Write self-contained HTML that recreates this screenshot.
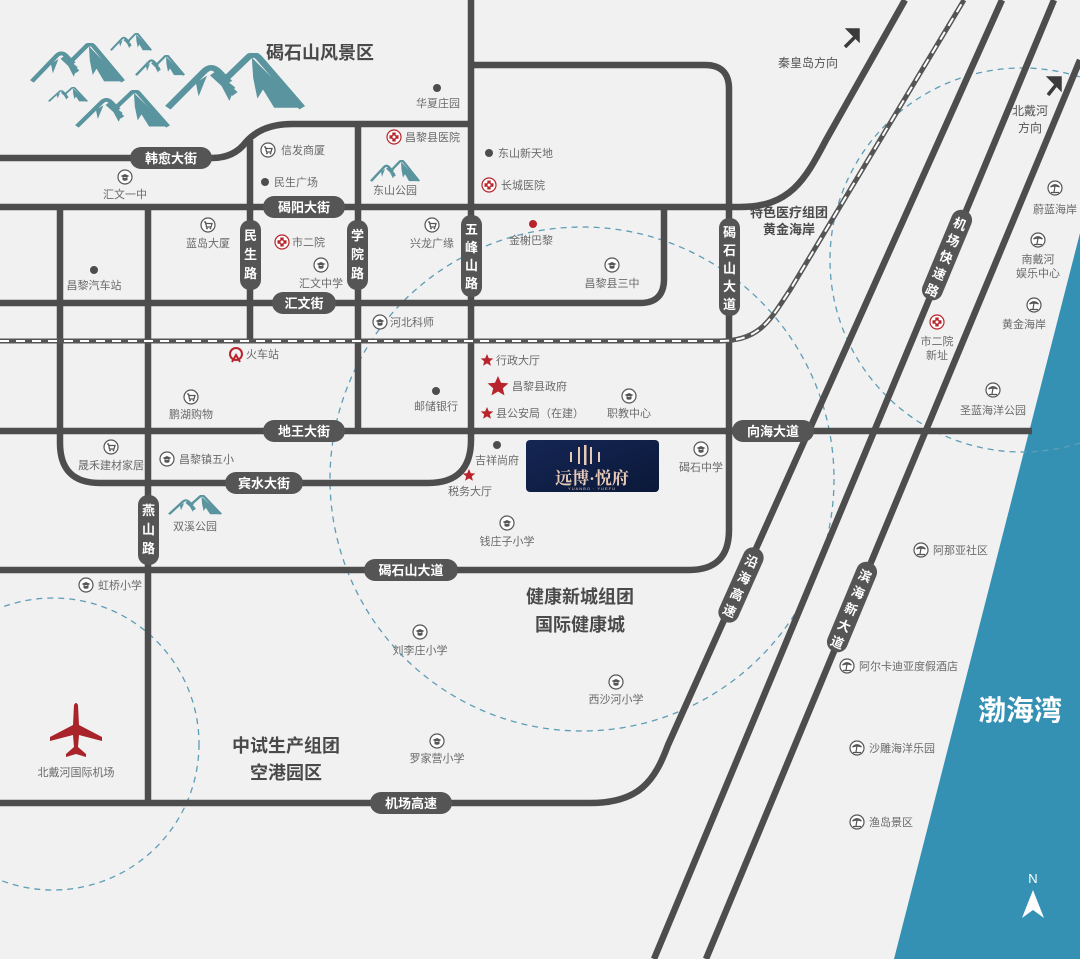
<!DOCTYPE html>
<html><head><meta charset="utf-8"><style>
html,body{margin:0;padding:0;background:#f1f1f1;}
svg{display:block;font-family:"Liberation Sans","Noto Sans CJK SC",sans-serif;}
.p{font-size:11px;fill:#6a6a6a;}
.rl{font-size:13px;fill:#fff;font-weight:bold;}
.big{font-size:18px;font-weight:bold;fill:#4a4a4a;}
.mid{font-size:13px;font-weight:bold;fill:#4a4a4a;}
</style></head><body>
<svg width="1080" height="959" viewBox="0 0 1080 959" xmlns="http://www.w3.org/2000/svg">
<defs>
<symbol id="mt" viewBox="0 0 100 50" preserveAspectRatio="none">
<path d="M2,48 L28,16 Q33,10 38,16 L46,26 M34,18 L50,36 M44,22 L60,3 Q64,0 67,4 L98,48" fill="none" stroke="#5a949e" stroke-width="5" stroke-linejoin="round"/>
<path d="M62,4 L98,48 L78,48 L70,32 L66,40 L63,22 Z" fill="#5a949e"/>
<path d="M35,16 L50,30 L46,42 L40,28 Z" fill="#5a949e"/>
<path d="M22,26 L30,20 L24,38 Z" fill="#5a949e"/>
</symbol>
<symbol id="sch" viewBox="0 0 16 16"><circle cx="8" cy="8" r="7" fill="#fff" stroke="#555" stroke-width="1.2"/><path d="M3.5,7 L8,5 L12.5,7 L8,9 Z M5.5,8 V11 Q8,12.5 10.5,11 V8" fill="#555"/></symbol>
<symbol id="shp" viewBox="0 0 16 16"><circle cx="8" cy="8" r="7" fill="#fff" stroke="#555" stroke-width="1.2"/><path d="M4,5 H5.5 L6.5,10 H11 L12,6.5 H6" fill="none" stroke="#555" stroke-width="1.3"/><circle cx="7" cy="11.5" r="0.9" fill="#555"/><circle cx="10.5" cy="11.5" r="0.9" fill="#555"/></symbol>
<symbol id="hos" viewBox="0 0 16 16"><circle cx="8" cy="8" r="7" fill="#fff" stroke="#b8242b" stroke-width="1.2"/><path d="M6.3,3.5 H9.7 V6.3 H12.5 V9.7 H9.7 V12.5 H6.3 V9.7 H3.5 V6.3 H6.3 Z" fill="#b8242b"/><circle cx="8" cy="8" r="1.5" fill="#fff"/></symbol>
<symbol id="palm" viewBox="0 0 16 16"><circle cx="8" cy="8" r="7" fill="#fff" stroke="#555" stroke-width="1.2"/><path d="M8,6 L7,12 M3.5,7 Q8,2.5 12.5,7 Q8,5 3.5,7 Z M4,12.5 H12" fill="#555" stroke="#555" stroke-width="1.2"/></symbol>
</defs>
<rect width="1080" height="959" fill="#f1f1f1"/>
<path d="M1080,233 L894,959 L1080,959 Z" fill="#3591b4"/>
<g fill="none" stroke="#5d9db5" stroke-width="1.3" stroke-dasharray="6,5">
<circle cx="582" cy="479" r="252"/>
<circle cx="53" cy="744" r="146"/>
<circle cx="1022" cy="260" r="192"/>
</g>
<g fill="none" stroke="#4d4d4d" stroke-width="6.5" stroke-linejoin="round">
<path d="M0,158 H212 Q234,158 246,142 Q262,124 292,124 H471"/>
<path d="M250,140 V341"/>
<path d="M358,124 V431"/>
<path d="M471,0 V440 Q471,483 428,483 H100 Q60,483 60,443 V207"/>
<path d="M471,65 H705 Q729,65 729,89 V530 Q729,570 689,570 H0"/>
<path d="M0,207 H740 C790,207 805,180 826,140 L905,0"/>
<path d="M0,303 H640 Q664,303 664,279 V207"/>
<path d="M0,431 H1032"/>
<path d="M148,207 V803"/>
<path d="M0,803 H590 C640,803 655,780 668,745 L1002,0"/>
<path d="M1054,0 L654,959"/>
<path d="M1080,60 L706,959"/>
</g>
<path d="M0,341 H720 C760,341 770,320 790,290 L964,0" fill="none" stroke="#555" stroke-width="5"/>
<path d="M0,341 H720 C760,341 770,320 790,290 L964,0" fill="none" stroke="#fff" stroke-width="2" stroke-dasharray="9,7"/>
<use href="#mt" x="30" y="43" width="95" height="40"/>
<use href="#mt" x="110" y="33" width="42" height="18"/>
<use href="#mt" x="135" y="55" width="50" height="21"/>
<use href="#mt" x="48" y="87" width="40" height="15"/>
<use href="#mt" x="75" y="90" width="95" height="38"/>
<use href="#mt" x="165" y="53" width="140" height="57"/>
<use href="#mt" x="370" y="160" width="50" height="22"/>
<use href="#mt" x="168" y="495" width="54" height="20"/>
<g>
<rect x="130" y="147" width="82" height="22" rx="11" fill="#555"/><text x="171" y="163" class="rl" text-anchor="middle">韩愈大街</text>
<rect x="263" y="196" width="82" height="22" rx="11" fill="#555"/><text x="304" y="212" class="rl" text-anchor="middle">碣阳大街</text>
<rect x="272" y="292" width="64" height="22" rx="11" fill="#555"/><text x="304" y="308" class="rl" text-anchor="middle">汇文街</text>
<rect x="263" y="420" width="82" height="22" rx="11" fill="#555"/><text x="304" y="436" class="rl" text-anchor="middle">地王大街</text>
<rect x="225" y="472" width="78" height="22" rx="11" fill="#555"/><text x="264" y="488" class="rl" text-anchor="middle">宾水大街</text>
<rect x="732" y="420" width="82" height="22" rx="11" fill="#555"/><text x="773" y="436" class="rl" text-anchor="middle">向海大道</text>
<rect x="364" y="559" width="94" height="22" rx="11" fill="#555"/><text x="411" y="575" class="rl" text-anchor="middle">碣石山大道</text>
<rect x="370" y="792" width="82" height="22" rx="11" fill="#555"/><text x="411" y="808" class="rl" text-anchor="middle">机场高速</text>
</g>
<g class="rl" text-anchor="middle">
<rect x="240" y="220" width="21" height="70" rx="10" fill="#555"/><text x="250.5" y="240">民</text><text x="250.5" y="259">生</text><text x="250.5" y="278">路</text>
<rect x="347" y="220" width="21" height="70" rx="10" fill="#555"/><text x="357.5" y="240">学</text><text x="357.5" y="259">院</text><text x="357.5" y="278">路</text>
<rect x="461" y="215" width="21" height="82" rx="10" fill="#555"/><text x="471.5" y="234">五</text><text x="471.5" y="252">峰</text><text x="471.5" y="270">山</text><text x="471.5" y="288">路</text>
<rect x="719" y="218" width="21" height="98" rx="10" fill="#555"/><text x="729.5" y="237">碣</text><text x="729.5" y="255">石</text><text x="729.5" y="273">山</text><text x="729.5" y="291">大</text><text x="729.5" y="309">道</text>
<rect x="138" y="495" width="21" height="70" rx="10" fill="#555"/><text x="148.5" y="515">燕</text><text x="148.5" y="534">山</text><text x="148.5" y="553">路</text>
<g transform="translate(947,255) rotate(22.6)"><rect x="-10.5" y="-48" width="21" height="96" rx="10" fill="#555"/><text y="-29">机</text><text y="-11">场</text><text y="7">快</text><text y="25">速</text><text y="43">路</text></g>
<g transform="translate(741,585) rotate(24)"><rect x="-10.5" y="-40" width="21" height="80" rx="10" fill="#555"/><text y="-21">沿</text><text y="-3">海</text><text y="15">高</text><text y="33">速</text></g>
<g transform="translate(852,607) rotate(22.6)"><rect x="-10.5" y="-48" width="21" height="96" rx="10" fill="#555"/><text y="-29">滨</text><text y="-11">海</text><text y="7">新</text><text y="25">大</text><text y="43">道</text></g>
</g>
<defs><linearGradient id="pg" x1="0" y1="0" x2="1" y2="1"><stop offset="0" stop-color="#142654"/><stop offset="1" stop-color="#0b1838"/></linearGradient></defs>
<rect x="526" y="440" width="133" height="52" rx="4" fill="url(#pg)"/>
<g fill="#e8c9b6"><rect x="570" y="452" width="2" height="10"/><rect x="578" y="447" width="2" height="17"/><rect x="584" y="445" width="2.5" height="20"/><rect x="590" y="447" width="2" height="17"/><rect x="598" y="452" width="2" height="10"/></g>
<text x="592" y="484" font-size="17" font-weight="bold" fill="#e8c9b6" text-anchor="middle" font-family="Liberation Serif,Noto Serif CJK SC,serif">远博·悦府</text>
<text x="592" y="490" font-size="4" fill="#e8c9b6" text-anchor="middle" letter-spacing="1">YUANBO · YUEFU</text>
<text x="320" y="59" class="big" text-anchor="middle">碣石山风景区</text>
<text x="580" y="603" class="big" text-anchor="middle">健康新城组团</text>
<text x="580" y="631" class="big" text-anchor="middle">国际健康城</text>
<text x="286" y="752" class="big" text-anchor="middle">中试生产组团</text>
<text x="286" y="779" class="big" text-anchor="middle">空港园区</text>
<text x="789" y="217" class="mid" text-anchor="middle">特色医疗组团</text>
<text x="789" y="234" class="mid" text-anchor="middle">黄金海岸</text>
<text x="1020" y="720" font-size="28" font-weight="bold" fill="#fff" text-anchor="middle">渤海湾</text>
<path d="M845,47 L855,37 M849,30 L858,30 L858,39 Z" stroke="#3a3a3a" stroke-width="3.5" fill="#3a3a3a"/>
<path d="M1048,95 L1056,85 M1050,78 L1060,78 L1060,88 Z" stroke="#3a3a3a" stroke-width="3.5" fill="#3a3a3a"/>
<text x="1033" y="883" font-size="13" fill="#fff" text-anchor="middle">N</text>
<path d="M1033,890 L1044,918 L1033,910 L1022,918 Z" fill="#fff"/>
<g fill="#a8232a" transform="translate(76,733)">
<path d="M-2,-28 Q0,-32 2,-28 L3,-8 L26,4 L26,8 L3,2 L2,14 L10,21 L10,24 L0,21 L-10,24 L-10,21 L-2,14 L-3,2 L-26,8 L-26,4 L-3,-8 Z"/>
</g>
<g fill="#4d4d4d">
<circle cx="437" cy="88" r="4"/><circle cx="265" cy="182" r="4"/><circle cx="489" cy="153" r="4"/>
<circle cx="94" cy="270" r="4"/><circle cx="436" cy="391" r="4"/><circle cx="497" cy="445" r="4"/>
</g>
<circle cx="533" cy="224" r="4" fill="#b8242b"/>
<g fill="#b8242b">
<path d="M487,354 l1.8,4.2 4.5,.3 -3.5,2.9 1.1,4.4 -3.9,-2.4 -3.9,2.4 1.1,-4.4 -3.5,-2.9 4.5,-.3 Z"/>
<path d="M498,376 l3,6.8 7.4,.6 -5.6,4.8 1.7,7.2 -6.5,-3.9 -6.5,3.9 1.7,-7.2 -5.6,-4.8 7.4,-.6 Z"/>
<path d="M487,407 l1.8,4.2 4.5,.3 -3.5,2.9 1.1,4.4 -3.9,-2.4 -3.9,2.4 1.1,-4.4 -3.5,-2.9 4.5,-.3 Z"/>
<path d="M469,469 l1.8,4.2 4.5,.3 -3.5,2.9 1.1,4.4 -3.9,-2.4 -3.9,2.4 1.1,-4.4 -3.5,-2.9 4.5,-.3 Z"/>
</g>
<circle cx="236" cy="354" r="6" fill="none" stroke="#b8242b" stroke-width="2"/><path d="M232,362 L236,355 L240,362" fill="none" stroke="#b8242b" stroke-width="2"/>
<use href="#shp" x="260" y="142" width="16" height="16"/>
<use href="#hos" x="386" y="129" width="16" height="16"/>
<use href="#hos" x="481" y="177" width="16" height="16"/>
<use href="#sch" x="117" y="169" width="16" height="16"/>
<use href="#shp" x="200" y="217" width="16" height="16"/>
<use href="#hos" x="274" y="234" width="16" height="16"/>
<use href="#sch" x="313" y="257" width="16" height="16"/>
<use href="#shp" x="424" y="217" width="16" height="16"/>
<use href="#sch" x="604" y="257" width="16" height="16"/>
<use href="#sch" x="372" y="314" width="16" height="16"/>
<use href="#shp" x="183" y="389" width="16" height="16"/>
<use href="#sch" x="621" y="388" width="16" height="16"/>
<use href="#shp" x="103" y="439" width="16" height="16"/>
<use href="#sch" x="159" y="451" width="16" height="16"/>
<use href="#sch" x="499" y="515" width="16" height="16"/>
<use href="#sch" x="693" y="441" width="16" height="16"/>
<use href="#sch" x="78" y="577" width="16" height="16"/>
<use href="#sch" x="412" y="624" width="16" height="16"/>
<use href="#sch" x="608" y="674" width="16" height="16"/>
<use href="#sch" x="429" y="733" width="16" height="16"/>
<use href="#palm" x="1047" y="180" width="16" height="16"/>
<use href="#palm" x="1030" y="232" width="16" height="16"/>
<use href="#palm" x="1026" y="297" width="16" height="16"/>
<use href="#hos" x="929" y="314" width="16" height="16"/>
<use href="#palm" x="985" y="382" width="16" height="16"/>
<use href="#palm" x="913" y="542" width="16" height="16"/>
<use href="#palm" x="839" y="658" width="16" height="16"/>
<use href="#palm" x="849" y="740" width="16" height="16"/>
<use href="#palm" x="849" y="814" width="16" height="16"/>
<g class="p" text-anchor="middle">
<text x="438" y="107">华夏庄园</text>
<text x="395" y="194">东山公园</text>
<text x="125" y="198">汇文一中</text>
<text x="208" y="247">蓝岛大厦</text>
<text x="321" y="287">汇文中学</text>
<text x="432" y="247">兴龙广缘</text>
<text x="612" y="287">昌黎县三中</text>
<text x="94" y="289">昌黎汽车站</text>
<text x="436" y="410">邮储银行</text>
<text x="629" y="417">职教中心</text>
<text x="191" y="418">鹏湖购物</text>
<text x="111" y="469">晟禾建材家居</text>
<text x="497" y="464">吉祥尚府</text>
<text x="470" y="495">税务大厅</text>
<text x="507" y="545">钱庄子小学</text>
<text x="701" y="471">碣石中学</text>
<text x="195" y="530">双溪公园</text>
<text x="420" y="654">刘李庄小学</text>
<text x="616" y="703">西沙河小学</text>
<text x="437" y="762">罗家营小学</text>
<text x="76" y="776">北戴河国际机场</text>
<text x="1055" y="213">蔚蓝海岸</text>
<text x="1038" y="263">南戴河</text>
<text x="1038" y="277">娱乐中心</text>
<text x="1024" y="328">黄金海岸</text>
<text x="937" y="345">市二院</text>
<text x="937" y="359">新址</text>
<text x="993" y="414">圣蓝海洋公园</text>
</g>
<g class="p">
<text x="281" y="154">信发商厦</text>
<text x="274" y="186">民生广场</text>
<text x="405" y="141">昌黎县医院</text>
<text x="498" y="157">东山新天地</text>
<text x="501" y="189">长城医院</text>
<text x="292" y="246">市二院</text>
<text x="509" y="244">金榭巴黎</text>
<text x="390" y="326">河北科师</text>
<text x="246" y="358">火车站</text>
<text x="496" y="364">行政大厅</text>
<text x="512" y="390">昌黎县政府</text>
<text x="496" y="417">县公安局（在建）</text>
<text x="179" y="463">昌黎镇五小</text>
<text x="98" y="589">虹桥小学</text>
<text x="933" y="554">阿那亚社区</text>
<text x="859" y="670">阿尔卡迪亚度假酒店</text>
<text x="869" y="752">沙雕海洋乐园</text>
<text x="869" y="826">渔岛景区</text>
</g>
<text x="808" y="67" font-size="12" fill="#555" text-anchor="middle">秦皇岛方向</text>
<text x="1030" y="115" font-size="12" fill="#555" text-anchor="middle">北戴河</text>
<text x="1030" y="132" font-size="12" fill="#555" text-anchor="middle">方向</text>
</svg>
</body></html>
